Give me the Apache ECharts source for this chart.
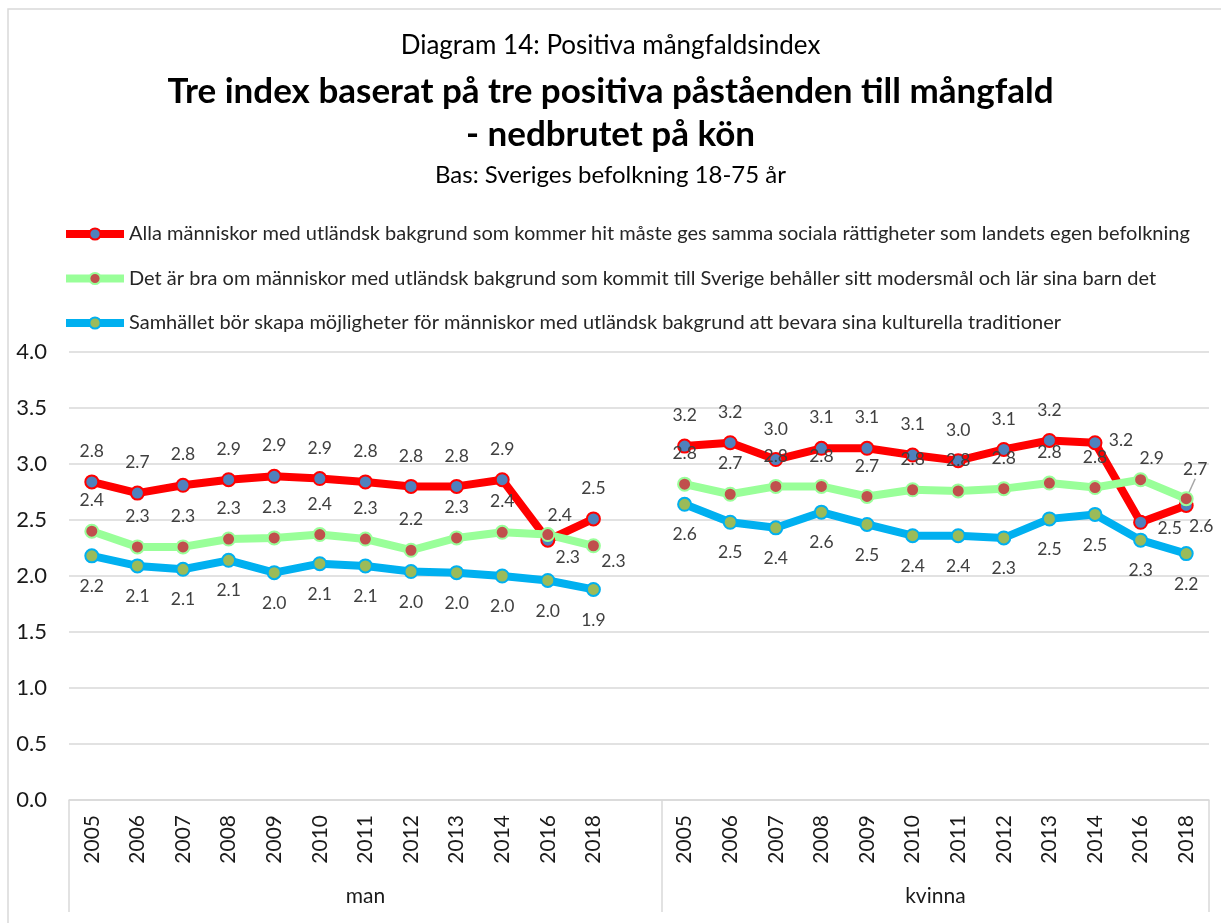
<!DOCTYPE html>
<html>
<head>
<meta charset="utf-8">
<title>Diagram 14: Positiva mångfaldsindex</title>
<script src="https://cdn.jsdelivr.net/npm/echarts@6/dist/echarts.min.js"></script>
<style>
  html, body { margin: 0; padding: 0; background: #fff; }
  #chart { width: 1221px; height: 923px; }
</style>
</head>
<body>
<div id="chart"></div>
<script>
const years = ['2005', '2006', '2007', '2008', '2009', '2010', '2011', '2012', '2013', '2014', '2016', '2018']
const groups = ['man', 'kvinna']
// one empty slot between the two groups
const categories = [...years, '', ...years]

const allaMan = [2.84, 2.74, 2.81, 2.86, 2.89, 2.87, 2.84, 2.80, 2.80, 2.86, 2.32, 2.51]
const allaKvinna = [3.16, 3.19, 3.04, 3.14, 3.14, 3.08, 3.03, 3.13, 3.21, 3.19, 2.48, 2.63]
const modersmalMan = [2.40, 2.26, 2.26, 2.33, 2.34, 2.37, 2.33, 2.23, 2.34, 2.39, 2.37, 2.27]
const modersmalKvinna = [2.82, 2.73, 2.80, 2.80, 2.71, 2.77, 2.76, 2.78, 2.83, 2.79, 2.86, 2.69]
const kulturMan = [2.18, 2.09, 2.06, 2.14, 2.03, 2.11, 2.09, 2.04, 2.03, 2.00, 1.96, 1.88]
const kulturKvinna = [2.64, 2.48, 2.43, 2.57, 2.46, 2.36, 2.36, 2.34, 2.51, 2.55, 2.32, 2.20]

const seriesNames = [
  'Alla människor med utländsk bakgrund som kommer hit måste ges samma sociala rättigheter som landets egen befolkning',
  'Det är bra om människor med utländsk bakgrund som kommit till Sverige behåller sitt modersmål och lär sina barn det',
  'Samhället bör skapa möjligheter för människor med utländsk bakgrund att bevara sina kulturella traditioner'
]

// labels that Excel moved away from the default spot: [dx, dy] from the marker centre
const labelNudges = [
  { 10: [20, 17], 22: [26, -2], 23: [29, 6], 24: [15, 21] },
  { 10: [12, -19], 11: [20, 16], 23: [11, -21], 24: [9, -29] },
  {}
]

const joinGroups = (a, b) => [...a, null, ...b]

const font = 'Lato, "Open Sans", sans-serif'
const gridColor = '#d9d9d9'

const makeSeries = (idx, values, lineColor, markerColor, labelPos) => ({
  name: seriesNames[idx],
  type: 'line',
  symbol: 'circle',
  symbolSize: 13,
  connectNulls: false,
  lineStyle: { width: 8, color: lineColor },
  itemStyle: { color: markerColor, borderColor: lineColor, borderWidth: 2 },
  label: {
    show: true,
    position: labelPos,
    distance: 14,
    fontSize: 17.5,
    fontFamily: font,
    color: '#404040',
    formatter: (p) => p.value == null ? '' : Number(p.value).toFixed(1)
  },
  labelLine: { show: false, lineStyle: { color: '#a6a6a6', width: 1.5 } },
  labelLayout: (params) => {
    const n = labelNudges[idx][params.dataIndex]
    if (!n) return {}
    return {
      x: params.rect.x + params.rect.width / 2 + n[0],
      y: params.rect.y + params.rect.height / 2 + n[1],
      align: 'center',
      verticalAlign: 'middle'
    }
  },
  emphasis: { disabled: true },
  data: values.map((v, i) => (idx === 1 && i === 24 ? { value: v, labelLine: { show: true } } : v))
})

const chart = echarts.init(document.getElementById('chart'))

chart.setOption({
  animation: false,
  backgroundColor: '#fff',
  textStyle: { fontFamily: font },
  title: [
    { text: 'Diagram 14: Positiva mångfaldsindex', left: 'center', top: 33, padding: 0,
      textStyle: { fontSize: 26, fontWeight: 'normal', color: '#000', fontFamily: font } },
    { text: 'Tre index baserat på tre positiva påståenden till mångfald', left: 'center', top: 74, padding: 0,
      textStyle: { fontSize: 35, fontWeight: 'bold', color: '#000', fontFamily: font } },
    { text: '- nedbrutet på kön', left: 'center', top: 117, padding: 0,
      textStyle: { fontSize: 35, fontWeight: 'bold', color: '#000', fontFamily: font } },
    { text: 'Bas: Sveriges befolkning 18-75 år', left: 'center', top: 163, padding: 0,
      textStyle: { fontSize: 24, fontWeight: 'normal', color: '#000', fontFamily: font } }
  ],
  legend: {
    orient: 'vertical',
    left: 62,
    top: 224,
    padding: 0,
    itemWidth: 58,
    itemHeight: 14,
    itemGap: 24.5,
    lineStyle: { width: 8 },
    textStyle: { fontSize: 20, color: '#262626', fontFamily: font, lineHeight: 20 },
    data: seriesNames
  },
  graphic: [
    {
      type: 'rect',
      silent: true,
      shape: { x: 8, y: 9, width: 1240, height: 940 },
      style: { fill: 'none', stroke: gridColor, lineWidth: 1.5 }
    }
  ],
  grid: { left: 69, right: 12, top: 352, bottom: 123 },
  xAxis: [
    {
      type: 'category',
      data: categories,
      boundaryGap: true,
      axisLine: { lineStyle: { color: gridColor, width: 1.5 } },
      axisTick: {
        show: true,
        length: 112,
        interval: (i) => i === 0 || i === 13 || i === categories.length,
        lineStyle: { color: gridColor, width: 1.5 }
      },
      axisLabel: { interval: 0, rotate: 90, margin: 15, fontSize: 21, color: '#1a1a1a', fontFamily: font },
      splitLine: { show: false }
    },
    {
      type: 'value',
      position: 'bottom',
      min: 0,
      max: categories.length,
      interval: 0.5,
      axisLine: { show: false },
      axisTick: { show: false },
      splitLine: { show: false },
      axisLabel: {
        margin: 86,
        fontSize: 21,
        color: '#1a1a1a',
        fontFamily: font,
        showMinLabel: true,
        showMaxLabel: true,
        formatter: (v) => (v === 6.5 ? groups[0] : v === 19 ? groups[1] : '')
      }
    }
  ],
  yAxis: {
    type: 'value',
    min: 0,
    max: 4,
    interval: 0.5,
    axisLine: { show: false },
    axisTick: { show: false },
    axisLabel: { margin: 22, fontSize: 22, color: '#1a1a1a', fontFamily: font, formatter: (v) => v.toFixed(1) },
    splitLine: { lineStyle: { color: gridColor, width: 1.5 } }
  },
  series: [
    makeSeries(0, joinGroups(allaMan, allaKvinna), '#ff0000', '#4f81bd', 'top'),
    makeSeries(1, joinGroups(modersmalMan, modersmalKvinna), '#99ff99', '#c0504d', 'top'),
    makeSeries(2, joinGroups(kulturMan, kulturKvinna), '#00b0f0', '#9bbb59', 'bottom')
  ]
})
</script>
</body>
</html>
